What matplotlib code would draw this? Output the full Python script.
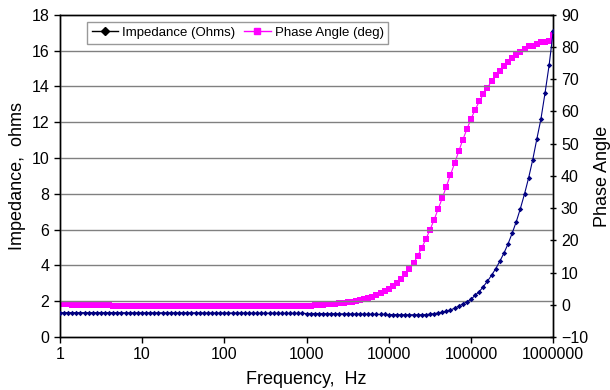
import matplotlib
matplotlib.use("Agg")
import matplotlib.pyplot as plt
from matplotlib.lines import Line2D
from matplotlib.ticker import FixedLocator, FixedFormatter

plt.rcParams["font.family"] = ["Liberation Sans", "DejaVu Sans"]

# 20 points per decade, 1 Hz .. 1 MHz
MANTISSA = [1.00, 1.12, 1.26, 1.41, 1.58, 1.78, 2.00, 2.24, 2.51, 2.82,
            3.16, 3.55, 3.98, 4.47, 5.01, 5.62, 6.31, 7.08, 7.94, 8.91]
DECADES = [1, 10, 100, 1000, 10000, 100000]
freq = [m * d for d in DECADES for m in MANTISSA] + [1000000]

impedance = [
    # 1 .. 8.9 Hz
    1.36, 1.36, 1.36, 1.36, 1.36, 1.36, 1.36, 1.36, 1.36, 1.36,
    1.36, 1.36, 1.36, 1.36, 1.36, 1.36, 1.35, 1.35, 1.35, 1.35,
    # 10 .. 89 Hz
    1.35, 1.35, 1.35, 1.35, 1.35, 1.35, 1.35, 1.35, 1.35, 1.35,
    1.35, 1.35, 1.35, 1.35, 1.35, 1.34, 1.34, 1.34, 1.34, 1.34,
    # 100 .. 890 Hz
    1.34, 1.34, 1.34, 1.34, 1.34, 1.34, 1.33, 1.33, 1.33, 1.33,
    1.33, 1.33, 1.33, 1.32, 1.32, 1.32, 1.32, 1.32, 1.32, 1.32,
    # 1 k .. 8.9 kHz
    1.31, 1.31, 1.31, 1.31, 1.30, 1.30, 1.30, 1.30, 1.29, 1.29,
    1.29, 1.28, 1.28, 1.28, 1.27, 1.27, 1.27, 1.26, 1.26, 1.26,
    # 10 k .. 89 kHz
    1.25, 1.25, 1.25, 1.24, 1.24, 1.24, 1.24, 1.24, 1.24, 1.25,
    1.27, 1.30, 1.34, 1.38, 1.44, 1.51, 1.60, 1.72, 1.84, 1.97,
    # 100 k .. 890 kHz
    2.10, 2.33, 2.53, 2.81, 3.11, 3.45, 3.82, 4.23, 4.68, 5.20,
    5.79, 6.44, 7.17, 7.99, 8.88, 9.89, 11.06, 12.18, 13.63, 15.20,
    # 1 MHz
    17.10,
]

phase = [
    # 1 .. 8.9 Hz
    0.2, 0.1, 0.1, 0.0, 0.0, 0.0, -0.1, -0.1, -0.1, -0.2,
    -0.2, -0.2, -0.2, -0.3, -0.3, -0.3, -0.3, -0.3, -0.3, -0.3,
    # 10 .. 89 Hz
    -0.3, -0.3, -0.3, -0.3, -0.3, -0.4, -0.4, -0.4, -0.4, -0.4,
    -0.4, -0.4, -0.4, -0.4, -0.4, -0.4, -0.4, -0.4, -0.4, -0.4,
    # 100 .. 890 Hz
    -0.4, -0.4, -0.4, -0.4, -0.4, -0.4, -0.4, -0.4, -0.4, -0.4,
    -0.4, -0.4, -0.4, -0.4, -0.4, -0.4, -0.4, -0.4, -0.3, -0.3,
    # 1 k .. 8.9 kHz
    -0.3, -0.3, -0.2, -0.1, 0.0, 0.1, 0.2, 0.3, 0.4, 0.6,
    0.7, 0.9, 1.1, 1.4, 1.7, 2.0, 2.5, 3.0, 3.6, 4.3,
    # 10 k .. 89 kHz
    5.0, 5.9, 6.9, 8.0, 9.4, 11.0, 12.9, 15.1, 17.6, 20.3,
    23.2, 26.3, 29.7, 33.1, 36.7, 40.3, 43.9, 47.6, 51.2, 54.5,
    # 100 k .. 890 kHz
    57.7, 60.5, 63.1, 65.3, 67.4, 69.4, 71.2, 72.7, 74.2, 75.5,
    76.5, 77.6, 78.6, 79.4, 80.2, 80.4, 80.8, 81.5, 81.7, 81.9,
    # 1 MHz
    83.6,
]

x_ticks = [1, 10, 100, 1000, 10000, 100000, 1000000]
x_labels = ["1", "10", "100", "1000", "10000", "100000", "1000000"]

IMP_COLOR = "#000080"
PHASE_COLOR = "#FF00FF"

fig = plt.figure(figsize=(6.1, 3.9), dpi=100)
ax = fig.add_axes([0.098, 0.136, 0.809, 0.826])
ax2 = ax.twinx()

for y in range(2, 18, 2):
    ax.axhline(y, color="#808080", linewidth=1.0, zorder=0)

ax.plot(freq, impedance, color=IMP_COLOR, linewidth=0.8, marker="D",
        markersize=2.8, markeredgewidth=0, zorder=3)
ax2.plot(freq, phase, color=PHASE_COLOR, linewidth=0.8, marker="s",
         markersize=4.4, markeredgewidth=0, zorder=2)
ax.set_zorder(ax2.get_zorder() + 1)
ax.patch.set_visible(False)

ax.set_xscale("log")
ax.set_xlim(1, 1000000)
ax.xaxis.set_major_locator(FixedLocator(x_ticks))
ax.xaxis.set_major_formatter(FixedFormatter(x_labels))
ax.xaxis.set_minor_locator(FixedLocator([]))
ax.set_ylim(0, 18)
ax.set_yticks(range(0, 19, 2))
ax2.set_ylim(-10, 90)
ax2.set_yticks(range(-10, 91, 10))

ax.tick_params(axis="both", labelsize=11.5, length=4, width=1, colors="black")
ax2.tick_params(axis="y", labelsize=11.5, length=4, width=1, direction="inout")
for sp in list(ax.spines.values()) + list(ax2.spines.values()):
    sp.set_linewidth(1.0)
    sp.set_color("black")

ax.set_xlabel("Frequency,  Hz", fontsize=13, labelpad=6)
ax.set_ylabel("Impedance,  ohms", fontsize=13, labelpad=4)
ax2.set_ylabel("Phase Angle", fontsize=13, labelpad=4)

handles = [
    Line2D([], [], color="black", linewidth=1, marker="D", markersize=4),
    Line2D([], [], color=PHASE_COLOR, linewidth=1, marker="s", markersize=5),
]
leg = ax.legend(handles, ["Impedance (Ohms)", "Phase Angle (deg)"], ncol=2,
                loc="upper left", bbox_to_anchor=(0.055, 0.977),
                borderaxespad=0, fontsize=9.5, frameon=True, fancybox=False,
                handlelength=2.0, handletextpad=0.3, columnspacing=0.7,
                borderpad=0.35)
leg.get_frame().set_edgecolor("#808080")
leg.get_frame().set_linewidth(1.0)

fig.savefig("out.png", dpi=100)
